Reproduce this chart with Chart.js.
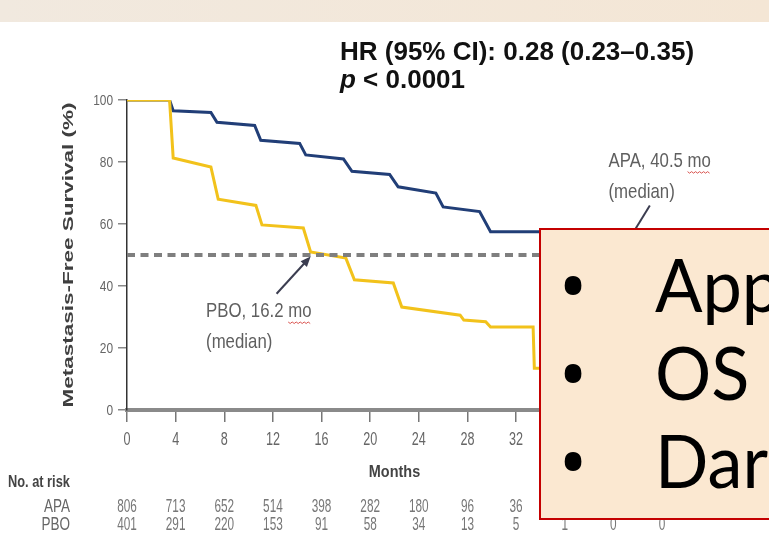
<!DOCTYPE html>
<html>
<head>
<meta charset="utf-8">
<title>Metastasis-free survival</title>
<script src="https://cdn.jsdelivr.net/npm/chart.js@4.4.1/dist/chart.umd.min.js"></script>
<style>
    html, body { margin: 0; padding: 0; background: #fff; }
    body { width: 769px; height: 557px; position: relative; overflow: hidden; }
    #topBand { position: absolute; left: 0; top: 0; width: 769px; height: 22px; background: linear-gradient(90deg, #f1e9df, #f4e6d5); }
    #kmChart { position: absolute; left: 0; top: 0; }
    #noteBox { position: absolute; left: 539px; top: 228px; width: 260px; height: 292px; box-sizing: border-box;
        background: #fbe8d1; border: 2px solid #c40000; font-family: Lato, 'Open Sans', sans-serif; color: #000; overflow: hidden; }
    #noteBox .line { position: absolute; left: 0; height: 88px; line-height: 88px; font-size: 74px; white-space: nowrap; }
    #noteBox .dot { position: absolute; left: 17px; font-family: 'Open Sans', sans-serif; font-size: 80px; }
    #noteBox .txt { position: absolute; left: 114px; transform: scaleX(0.95); transform-origin: left center; }
</style>
</head>
<body>
<div id="topBand"></div>
<canvas id="kmChart" width="769" height="557"></canvas>
<div id="noteBox">
    <div class="line" style="top:10px"><span class="dot">•</span><span class="txt">Approved</span></div>
    <div class="line" style="top:98px"><span class="dot">•</span><span class="txt">OS data</span></div>
    <div class="line" style="top:186px"><span class="dot">•</span><span class="txt">Darolutamide</span></div>
</div>
<script>
// Kaplan-Meier curves (months, % metastasis-free)
const apaMonths = [0, 3.5, 3.8, 6.9, 7.4, 10.5, 11.0, 14.2, 14.7, 17.8, 18.5, 21.6, 22.3, 25.4, 26.0, 29.0, 29.9, 36];
const apaSurvival = [100, 100, 96.5, 96, 92.8, 91.8, 87, 86, 82.3, 81, 77, 76, 72, 70, 65.5, 64, 57.5, 57.5];

const pboMonths = [0, 3.5, 3.8, 6.9, 7.5, 10.6, 11.1, 14.5, 15.1, 18.0, 18.7, 21.9, 22.6, 27.4, 27.7, 29.5, 29.9, 33.4, 33.5, 35];
const pboSurvival = [100, 100, 81.3, 78.4, 68, 66, 59.7, 58.7, 51, 49, 42, 41, 33.2, 30.6, 29, 28.5, 26.8, 26.8, 13.5, 13.5];

const medianLevel = 50;

// axis ticks
const monthTicks = [0, 4, 8, 12, 16, 20, 24, 28, 32, 36, 40, 44];
const survivalTicks = [0, 20, 40, 60, 80, 100];

// number at risk under each month tick
const apaAtRisk = [806, 713, 652, 514, 398, 282, 180, 96, 36];
const pboAtRisk = [401, 291, 220, 153, 91, 58, 34, 13, 5, 1, 0, 0];

const NAVY = '#213e77';
const GOLD = '#f2c21b';
const GREY_TEXT = '#666';
const FONT = "'Liberation Sans', Arial, sans-serif";

function toPoints(xs, ys) {
    return xs.map((x, i) => ({ x: x, y: ys[i] }));
}

function drawText(ctx, text, x, y, font, color, align, sx) {
    ctx.save();
    ctx.font = font;
    ctx.fillStyle = color;
    ctx.textAlign = align || 'left';
    ctx.textBaseline = 'alphabetic';
    ctx.translate(x, y);
    ctx.scale(sx || 1, 1);
    ctx.fillText(text, 0, 0);
    ctx.restore();
}

function drawArrow(ctx, x1, y1, x2, y2, color) {
    const ang = Math.atan2(y2 - y1, x2 - x1);
    const head = 11;
    ctx.save();
    ctx.strokeStyle = color;
    ctx.fillStyle = color;
    ctx.lineWidth = 2;
    ctx.beginPath();
    ctx.moveTo(x1, y1);
    ctx.lineTo(x2 - Math.cos(ang) * head * 0.8, y2 - Math.sin(ang) * head * 0.8);
    ctx.stroke();
    ctx.beginPath();
    ctx.moveTo(x2, y2);
    ctx.lineTo(x2 - head * Math.cos(ang - 0.4), y2 - head * Math.sin(ang - 0.4));
    ctx.lineTo(x2 - head * Math.cos(ang + 0.4), y2 - head * Math.sin(ang + 0.4));
    ctx.closePath();
    ctx.fill();
    ctx.restore();
}

function squiggle(ctx, x, y, w) {
    ctx.save();
    ctx.strokeStyle = '#d9534f';
    ctx.lineWidth = 1;
    ctx.beginPath();
    for (let i = 0; i <= w; i += 2) {
        const yy = y + (i % 4 === 0 ? 0 : 1.5);
        if (i === 0) ctx.moveTo(x + i, yy); else ctx.lineTo(x + i, yy);
    }
    ctx.stroke();
    ctx.restore();
}

// median label with the red spell-check line under "mo"
function medianLabel(ctx, label, x, y) {
    const font = '21px ' + FONT;
    const sx = 0.8;
    drawText(ctx, label, x, y, font, '#5f5f5f', 'left', sx);
    ctx.save();
    ctx.font = font;
    const full = ctx.measureText(label).width * sx;
    const mo = ctx.measureText('mo').width * sx;
    ctx.restore();
    squiggle(ctx, x + full - mo, y + 5, mo);
    drawText(ctx, '(median)', x, y + 31, font, '#5f5f5f', 'left', sx);
}

const kmText = {
    id: 'kmText',
    afterDraw(chart) {
        const ctx = chart.ctx;
        const xs = chart.scales.x;
        const ys = chart.scales.y;

        // tick labels (condensed, like the slide)
        ys.ticks.forEach(t => {
            drawText(ctx, String(t.value), ys.right - 14, ys.getPixelForValue(t.value) + 5,
                '14px ' + FONT, GREY_TEXT, 'right', 0.85);
        });
        xs.ticks.forEach(t => {
            drawText(ctx, String(t.value), xs.getPixelForValue(t.value), xs.top + 35,
                '18px ' + FONT, GREY_TEXT, 'center', 0.7);
        });

        // axis titles
        drawText(ctx, 'Months', xs.getPixelForValue(22), xs.top + 67, 'bold 17px ' + FONT, '#444', 'center', 0.85);
        ctx.save();
        ctx.translate(69, (ys.top + ys.bottom) / 2);
        ctx.rotate(-Math.PI / 2);
        ctx.scale(1.5, 1);
        ctx.font = 'bold 15px ' + FONT;
        ctx.fillStyle = '#3f3f3f';
        ctx.textAlign = 'center';
        ctx.textBaseline = 'middle';
        ctx.fillText('Metastasis-Free Survival (%)', 0, 0);
        ctx.restore();

        // number at risk table
        drawText(ctx, 'No. at risk', 8, 487, 'bold 16px ' + FONT, '#444', 'left', 0.8);
        drawText(ctx, 'APA', 70, 512, '18px ' + FONT, GREY_TEXT, 'right', 0.75);
        drawText(ctx, 'PBO', 70, 530, '18px ' + FONT, GREY_TEXT, 'right', 0.75);
        apaAtRisk.forEach((n, i) => {
            drawText(ctx, String(n), xs.getPixelForValue(monthTicks[i]), 512, '19px ' + FONT, '#777', 'center', 0.62);
        });
        pboAtRisk.forEach((n, i) => {
            drawText(ctx, String(n), xs.getPixelForValue(monthTicks[i]), 530, '19px ' + FONT, '#777', 'center', 0.62);
        });

        // median annotations
        medianLabel(ctx, 'PBO, 16.2 mo', xs.getPixelForValue(6.5), ys.getPixelForValue(30));
        drawArrow(ctx, xs.getPixelForValue(12.3), ys.getPixelForValue(37.5),
            xs.getPixelForValue(15.1), ys.getPixelForValue(49.5), '#3b3d50');
        medianLabel(ctx, 'APA, 40.5 mo', xs.getPixelForValue(39.6), ys.getPixelForValue(78.5));
        drawArrow(ctx, xs.getPixelForValue(43.0), ys.getPixelForValue(66),
            xs.getPixelForValue(40.5), ys.getPixelForValue(medianLevel), '#3b3d50');

        // hazard ratio
        const hrFont = 'bold 26px ' + FONT;
        drawText(ctx, 'HR (95% CI): 0.28 (0.23\u20130.35)', 340, 60, hrFont, '#111', 'left', 1);
        ctx.save();
        ctx.font = 'italic ' + hrFont;
        const pw = ctx.measureText('p').width;
        ctx.restore();
        drawText(ctx, 'p', 340, 88, 'italic ' + hrFont, '#111', 'left', 1);
        drawText(ctx, ' < 0.0001', 340 + pw, 88, hrFont, '#111', 'left', 1);
    }
};

new Chart(document.getElementById('kmChart').getContext('2d'), {
    type: 'line',
    data: {
        datasets: [
            {
                label: 'PBO',
                data: toPoints(pboMonths, pboSurvival),
                borderColor: GOLD,
                borderWidth: 3,
                pointRadius: 0,
                tension: 0,
                order: 1
            },
            {
                label: 'APA',
                data: toPoints(apaMonths, apaSurvival),
                borderColor: NAVY,
                borderWidth: 3,
                pointRadius: 0,
                tension: 0,
                order: 2
            },
            {
                label: 'Median',
                data: [{ x: monthTicks[0], y: medianLevel }, { x: monthTicks[monthTicks.length - 1], y: medianLevel }],
                borderColor: '#7f7f7f',
                borderWidth: 4,
                borderDash: [8, 5.5],
                pointRadius: 0,
                order: 0
            }
        ]
    },
    options: {
        responsive: false,
        animation: false,
        layout: { padding: { left: 0, top: 100, right: 107, bottom: 0 } },
        plugins: {
            legend: { display: false },
            tooltip: { enabled: false }
        },
        scales: {
            x: {
                type: 'linear',
                min: monthTicks[0],
                max: monthTicks[monthTicks.length - 1],
                afterBuildTicks: s => { s.ticks = monthTicks.map(v => ({ value: v })); },
                afterFit: s => { s.height = 147; },
                ticks: { display: false },
                grid: { drawOnChartArea: false, tickLength: 12, color: '#777', lineWidth: 1.5 },
                border: { color: '#8a8a8a', width: 4 }
            },
            y: {
                min: 0,
                max: 100,
                afterBuildTicks: s => { s.ticks = survivalTicks.map(v => ({ value: v })); },
                afterFit: s => { s.width = 127; },
                ticks: { display: false },
                grid: { drawOnChartArea: false, tickLength: 9, color: '#888', lineWidth: 1.5 },
                border: { color: '#333', width: 1.5 }
            }
        }
    },
    plugins: [kmText]
});
</script>
</body>
</html>
